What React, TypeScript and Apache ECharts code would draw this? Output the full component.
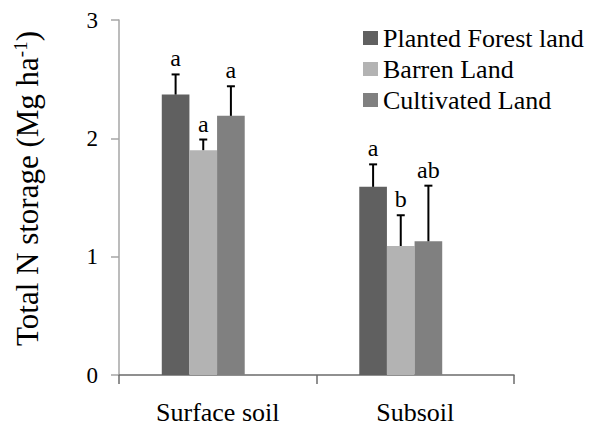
import React, { useEffect, useRef } from "react";
import * as echarts from "echarts";

const categories = ["Surface soil", "Subsoil"];
const seriesNames = ["Planted Forest land", "Barren Land", "Cultivated Land"];
const plantedValues = [2.37, 1.59];
const plantedErrors = [0.17, 0.19];
const barrenValues = [1.9, 1.09];
const barrenErrors = [0.09, 0.26];
const cultivatedValues = [2.19, 1.13];
const cultivatedErrors = [0.25, 0.47];
const plantedLetters = ["a", "a"];
const barrenLetters = ["a", "b"];
const cultivatedLetters = ["a", "ab"];
const yTicks = [0, 1, 2, 3];

const colors = ["#606060", "#b3b3b3", "#808080"];
const FONT = "Liberation Serif";
const CAT_GAP = 0.58;

export default function App() {
  const ref = useRef<HTMLDivElement>(null);
  useEffect(() => {
    if (!ref.current) return;
    const chart = echarts.init(ref.current, null, { renderer: "svg" });
    const values = [plantedValues, barrenValues, cultivatedValues];
    const errors = [plantedErrors, barrenErrors, cultivatedErrors];
    const letters = [plantedLetters, barrenLetters, cultivatedLetters];

    const barSeries = seriesNames.map((name, k) => ({
      name,
      type: "bar",
      xAxisIndex: 1,
      yAxisIndex: 1,
      barGap: "0%",
      barCategoryGap: CAT_GAP * 100 + "%",
      itemStyle: { color: colors[k] },
      data: values[k],
      z: 2,
    }));

    const errSeries = seriesNames.map((name, k) => ({
      name: name + " err",
      type: "custom",
      xAxisIndex: 1,
      yAxisIndex: 1,
      z: 3,
      data: values[k].map((v, i) => [i, v, errors[k][i]]),
      renderItem: (params: any, api: any) => {
        const ci = api.value(0);
        const v = api.value(1);
        const e = api.value(2);
        const band = api.size([1, 0])[0];
        const bw = (band * (1 - CAT_GAP)) / 3;
        const offset = (k - 1) * bw;
        const base = api.coord([ci, v]);
        const top = api.coord([ci, v + e]);
        const x = base[0] + offset;
        return {
          type: "group",
          children: [
            {
              type: "line",
              shape: { x1: x, y1: base[1], x2: x, y2: top[1] },
              style: { stroke: "#000", lineWidth: 2 },
            },
            {
              type: "line",
              shape: { x1: x - 4, y1: top[1], x2: x + 4, y2: top[1] },
              style: { stroke: "#000", lineWidth: 2 },
            },
            {
              type: "text",
              x: x,
              y: top[1] - 4,
              style: {
                text: letters[k][params.dataIndex],
                fontSize: 24,
                fontFamily: FONT,
                align: "center",
                verticalAlign: "bottom",
                fill: "#000",
              },
            },
          ],
        };
      },
    }));

    chart.setOption({
      animation: false,
      backgroundColor: "#fff",
      textStyle: { fontFamily: FONT },
      legend: {
        data: seriesNames,
        orient: "vertical",
        left: 363,
        top: 25,
        padding: 0,
        itemWidth: 15,
        itemHeight: 14,
        itemGap: 5,
        icon: "rect",
        textStyle: { fontFamily: FONT, fontSize: 26, color: "#000" },
      },
      grid: [
        { left: 119, right: 79, top: 20, bottom: 55 },
        { left: 104.5, right: 93.5, top: 20, bottom: 55 },
      ],
      xAxis: [
        {
          type: "category",
          gridIndex: 0,
          data: categories,
          axisLine: { lineStyle: { color: "#6b6b6b", width: 1.5 } },
          axisTick: { show: true, length: 9, lineStyle: { color: "#6b6b6b", width: 1.5 } },
          axisLabel: { fontFamily: FONT, fontSize: 26, color: "#000", margin: 24 },
        },
        {
          type: "category",
          gridIndex: 1,
          data: categories,
          show: false,
        },
      ],
      yAxis: [
        {
          type: "value",
          gridIndex: 0,
          min: 0,
          max: 3,
          interval: 1,
          axisLine: { show: true, lineStyle: { color: "#a6a6a6", width: 1.5 } },
          axisTick: { show: true, length: 8, lineStyle: { color: "#a6a6a6", width: 1.5 } },
          splitLine: { show: false },
          axisLabel: {
            fontFamily: FONT,
            fontSize: 23,
            color: "#000",
            margin: 21,
            formatter: (v: number) => (yTicks.includes(v) ? String(v) : ""),
          },
          name: "{a|Total N storage (Mg ha}{s|-1}{a|)}",
          nameLocation: "middle",
          nameGap: 76,
          nameRotate: 90,
          nameTextStyle: {
            padding: [0, 0, 0, 18],
            rich: {
              a: { fontFamily: FONT, fontSize: 31, color: "#000", lineHeight: 32 },
              s: { fontFamily: FONT, fontSize: 19, color: "#000", verticalAlign: "top", lineHeight: 32 },
            },
          },
        },
        {
          type: "value",
          gridIndex: 1,
          min: 0,
          max: 3,
          interval: 1,
          show: false,
        },
      ],
      series: [...barSeries, ...errSeries],
    });
    return () => chart.dispose();
  }, []);
  return (
    <div
      ref={ref}
      style={{ position: "fixed", left: 0, top: 0, width: 593, height: 430, background: "#fff" }}
    />
  );
}
